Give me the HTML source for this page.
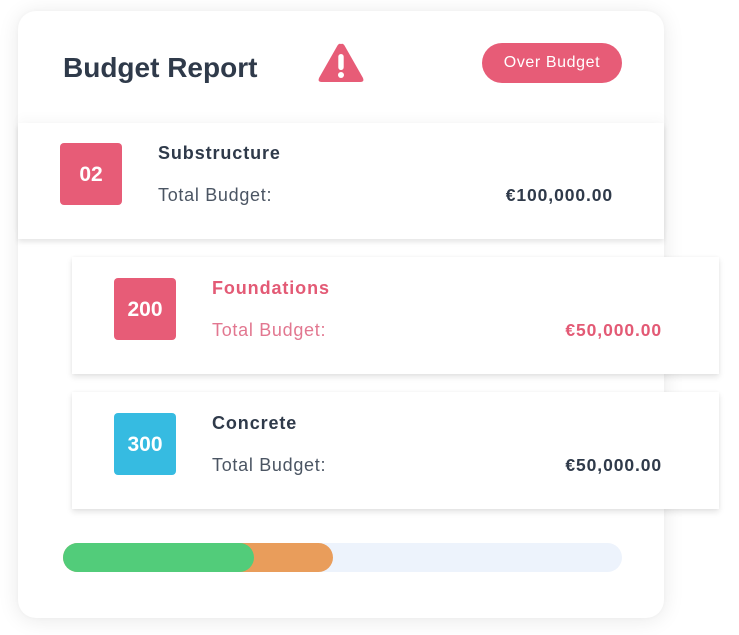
<!DOCTYPE html>
<html>
<head>
<meta charset="utf-8">
<style>
  html, body { margin:0; padding:0; }
  body { width:739px; height:635px; background:#ffffff; position:relative; overflow:hidden; font-family:"Liberation Sans", Arial, sans-serif; }
  .card { position:absolute; left:18px; top:11px; width:646px; height:607px; background:#fff; border-radius:18px;
          box-shadow:0 2px 22px rgba(0,0,0,0.09), 0 0 4px rgba(0,0,0,0.03); }
  .abs { position:absolute; white-space:nowrap; }
  .title { left:63px; top:54px; font-size:28px; line-height:28px; font-weight:bold; color:#2f3a4a; }
  .pill { left:482px; top:43px; width:140px; height:40px; border-radius:20px; background:#e75c77; color:#fff;
          font-size:16px; line-height:40px; text-align:center; letter-spacing:0.6px; }
  .section { left:18px; top:123px; width:646px; height:116px; background:#fff;
             box-shadow:0 3px 5px rgba(0,0,0,0.10), 0 -6px 10px rgba(0,0,0,0.025); }
  .sub { left:72px; width:647px; height:117px; background:#fff;
         box-shadow:0 3px 6px rgba(0,0,0,0.11), 0 0 3px rgba(0,0,0,0.04); }
  .box { width:62px; height:62px; border-radius:4px; color:#fff; font-weight:bold; font-size:21px; line-height:63px; text-align:center; }
  .name { font-size:18px; line-height:18px; font-weight:bold; letter-spacing:0.9px; color:#2f3a4a; }
  .lbl { font-size:18px; line-height:18px; letter-spacing:0.7px; color:#4b5563; }
  .amt { font-size:17.5px; line-height:18px; font-weight:bold; color:#2f3a4a; text-align:right; letter-spacing:0.9px; }
  .pink { color:#e35a75; }
  .pinkl { color:#e27790; }
</style>
</head>
<body>
  <div class="card"></div>

  <div class="abs title">Budget Report</div>

  <svg class="abs" style="left:316px;top:41px;" width="50" height="44" viewBox="0 0 50 44">
    <path d="M25 3 Q27 2 28.5 4.5 L47 37 Q48.5 41 44.5 41 L5.5 41 Q1.5 41 3 37 L21.5 4.5 Q23 2 25 3 Z" fill="#e75c77"/>
    <rect x="22.3" y="13" width="5.4" height="16" rx="2.7" fill="#fff"/>
    <circle cx="25" cy="34" r="3" fill="#fff"/>
  </svg>

  <div class="abs pill">Over Budget</div>

  <!-- Substructure section -->
  <div class="abs section"></div>
  <div class="abs box" style="left:60px;top:143px;background:#e75c77;">02</div>
  <div class="abs name" style="left:158px;top:144px;">Substructure</div>
  <div class="abs lbl" style="left:158px;top:186px;">Total Budget:</div>
  <div class="abs amt" style="left:413px;width:200px;top:186px;">€100,000.00</div>

  <!-- Foundations -->
  <div class="abs sub" style="top:257px;"></div>
  <div class="abs box" style="left:114px;top:278px;background:#e75c77;">200</div>
  <div class="abs name pink" style="left:212px;top:279px;">Foundations</div>
  <div class="abs lbl pinkl" style="left:212px;top:321px;">Total Budget:</div>
  <div class="abs amt pink" style="left:462px;width:200px;top:321px;">€50,000.00</div>

  <!-- Concrete -->
  <div class="abs sub" style="top:392px;"></div>
  <div class="abs box" style="left:114px;top:413px;background:#36bbe1;">300</div>
  <div class="abs name" style="left:212px;top:414px;">Concrete</div>
  <div class="abs lbl" style="left:212px;top:456px;">Total Budget:</div>
  <div class="abs amt" style="left:462px;width:200px;top:456px;">€50,000.00</div>

  <!-- Progress bar -->
  <div class="abs" style="left:63px;top:543px;width:559px;height:29px;border-radius:15px;background:#edf3fc;"></div>
  <div class="abs" style="left:63px;top:543px;width:270px;height:29px;border-radius:15px;background:#e99d5b;"></div>
  <div class="abs" style="left:63px;top:543px;width:191px;height:29px;border-radius:15px;background:#52cc7a;"></div>
</body>
</html>
